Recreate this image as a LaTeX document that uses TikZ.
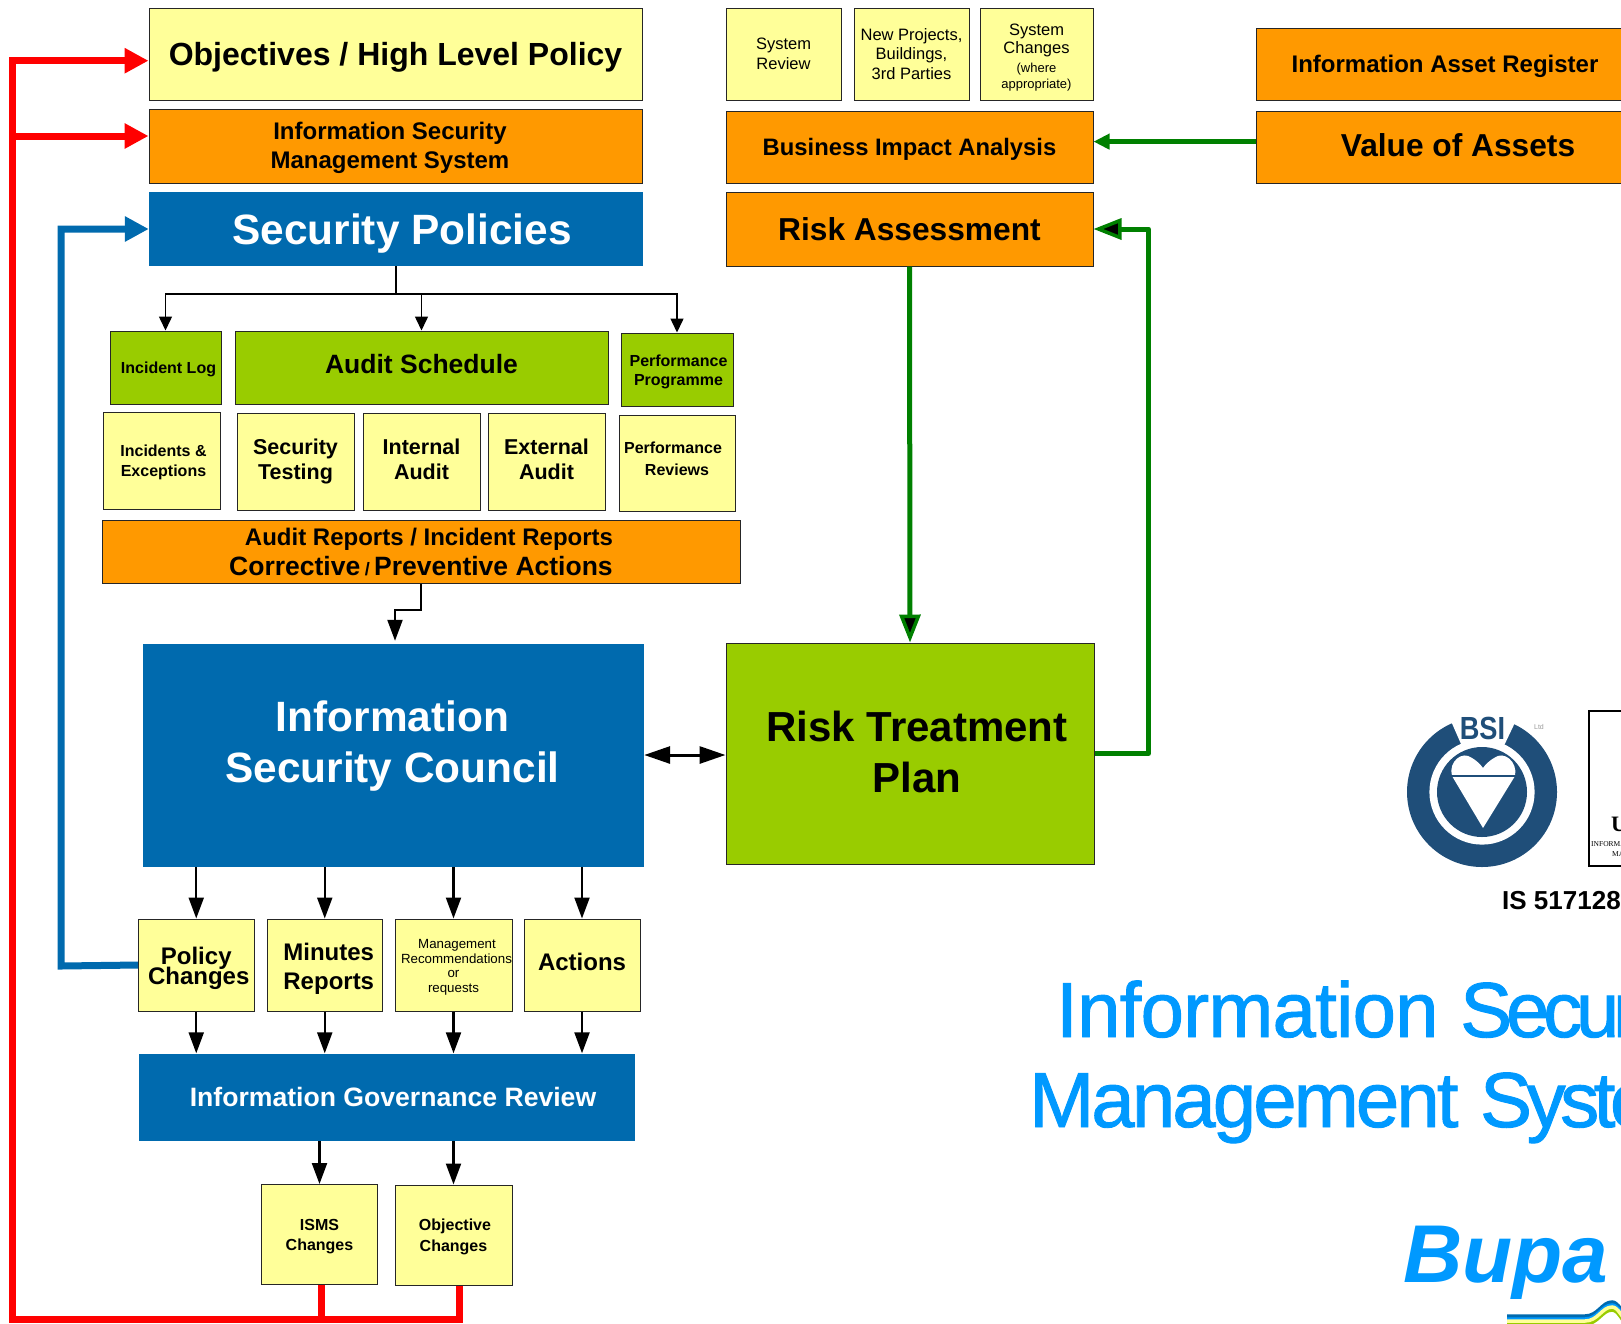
\documentclass[tikz,border=0pt]{standalone}
\usepackage{fontspec}
\setmainfont{Liberation Sans}
\newfontfamily\serifmark{Liberation Serif}
\newfontfamily\titlefont[FakeBold=1.2]{Liberation Sans}
\usetikzlibrary{calc}
\usetikzlibrary{arrows.meta}
\definecolor{paleyellow}{HTML}{FFFF99}
\definecolor{boxorange}{HTML}{FF9900}
\definecolor{boxgreen}{HTML}{99CC00}
\definecolor{boxblue}{HTML}{006AAE}
\definecolor{titleblue}{HTML}{0099FF}
\definecolor{linegreen}{HTML}{008000}
\definecolor{bsiblue}{HTML}{1F4E79}
\newcommand{\fsize}[2]{\fontsize{#1}{#2}\selectfont}
\newcommand{\tallline}[1]{\rule{0pt}{#1pt}}
\newcommand{\deepline}[1]{\rule[-#1pt]{0pt}{#1pt}}
\tikzset{boldtext/.style 2 args={font=\bfseries\fsize{#1}{#2}}}
\tikzset{plaintext/.style 2 args={font=\normalfont\fsize{#1}{#2}}}
\tikzset{capline/.style={text height=0.716*#1pt, text depth=0pt}}
\tikzstyle{basebox} = [draw=black!85, line width=1pt, inner sep=0pt, align=center]
\tikzstyle{yellowbox} = [basebox, fill=paleyellow]
\tikzstyle{orangebox} = [basebox, fill=boxorange]
\tikzstyle{greenbox} = [basebox, fill=boxgreen]
\tikzstyle{bluebox} = [inner sep=0pt, align=center, fill=boxblue, text=white]
\tikzstyle{blackthin} = [draw=black, line width=1.5pt, -{Triangle[length=14pt,width=13pt]}]
\tikzstyle{blackthick} = [draw=black, line width=2.2pt, -{Triangle[length=21pt,width=15pt]}]
\tikzstyle{redline} = [draw=red, line width=7pt]
\tikzstyle{redarrow} = [redline, -{Triangle[length=24pt,width=24pt]}]
\tikzstyle{blueline} = [draw=boxblue, line width=7pt, -{Triangle[length=24pt,width=24pt]}]
\tikzstyle{greenline} = [draw=linegreen, line width=5pt]
\tikzstyle{greenhead} = [greenline, line join=round, -{Triangle[length=28pt,width=21pt,fill=black,line width=3.5pt]}]

\begin{document}
\begin{tikzpicture}[x=1pt, y=-1pt]
    \useasboundingbox (0,0) rectangle (1621,1323);
    \clip (0,0) rectangle (1621,1323);

    % policy column
    \node[yellowbox, boldtext={32}{38}, capline=32, minimum width=493pt, minimum height=92pt] (objectives) at (395.5,54) {Objectives / High Level Policy};
    \node[orangebox, boldtext={24}{29}, minimum width=493pt, minimum height=74pt] (isms_box) at (395.5,146) {\tallline{22}\hspace*{-11pt}Information Security\\\hspace*{-11pt}Management System};
    \node[bluebox, boldtext={42.4}{50}, capline=42.4, minimum width=494pt, minimum height=74pt] (security_policies) at (396,229) {\hspace*{12pt}Security Policies};

    % top right
    \node[yellowbox, plaintext={16.5}{20}, minimum width=115pt, minimum height=92pt] (system_review) at (783.5,54) {System\\Review};
    \node[yellowbox, plaintext={16.5}{19.5}, minimum width=115pt, minimum height=92pt] (new_projects) at (911.5,54) {New Projects,\\Buildings,\\3rd Parties};
    \node[yellowbox, plaintext={16.5}{18.6}, minimum width=113pt, minimum height=92pt] (system_changes) at (1036.5,54) {\tallline{18}System\\Changes\\\fsize{13}{15}(where\\[-3pt]\fsize{13}{15}appropriate)};
    \node[orangebox, boldtext={23.8}{29}, capline=23.8, minimum width=367pt, minimum height=72pt] (impact_analysis) at (909.5,147) {Business Impact Analysis};
    \node[orangebox, boldtext={31.7}{38}, capline=31.7, minimum width=367pt, minimum height=74pt] (risk_assessment) at (909.5,229) {Risk Assessment};
    \node[orangebox, boldtext={24}{30}, capline=24, minimum width=378pt, minimum height=72pt] (asset_register) at (1445,64) {Information Asset Register};
    \node[orangebox, boldtext={31.7}{38}, capline=31.7, text depth=4pt, minimum width=404pt, minimum height=72pt] (asset_value) at (1458,147) {Value of Assets};

    % audit rows
    \node[greenbox, boldtext={16}{19}, capline=16, minimum width=111pt, minimum height=73pt] (incident_log) at (165.5,367.5) {\hspace*{6pt}Incident Log};
    \node[greenbox, boldtext={26.5}{32}, capline=26.5, text depth=6pt, minimum width=373pt, minimum height=73pt] (audit_schedule) at (421.5,367.5) {Audit Schedule};
    \node[greenbox, boldtext={16}{19.5}, minimum width=112pt, minimum height=73pt] (perf_programme) at (677,369.5) {\tallline{16}\hspace*{3pt}Performance\\\hspace*{3pt}Programme};
    \node[yellowbox, boldtext={16}{19.5}, minimum width=117pt, minimum height=97pt] (incidents_box) at (161.5,460.5) {\tallline{15}\hspace*{4pt}Incidents \&\\\hspace*{4pt}Exceptions};
    \node[yellowbox, boldtext={21.5}{25}, minimum width=117pt, minimum height=97pt] (security_testing) at (295.5,461.5) {Security\\Testing};
    \node[yellowbox, boldtext={21.5}{25}, minimum width=117pt, minimum height=97pt] (internal_audit) at (421.5,461.5) {Internal\\Audit\deepline{4}};
    \node[yellowbox, boldtext={21.5}{25}, minimum width=117pt, minimum height=97pt] (external_audit) at (546.5,461.5) {External\\Audit\deepline{5}};
    \node[yellowbox, boldtext={16}{22}, minimum width=116pt, minimum height=96pt] (perf_reviews) at (677,463) {\hspace*{-8pt}Performance\\Reviews\deepline{8}};
    \node[orangebox, boldtext={24}{30}, minimum width=638pt, minimum height=63pt] (audit_reports) at (421,551.5) {\tallline{19}\hspace*{16pt}Audit Reports / Incident Reports\\\fsize{26.5}{30}Corrective\,{\fsize{18}{30}/}\,Preventive Actions};

    % council and treatment plan
    \node[bluebox, minimum width=501pt, minimum height=223pt] (council) at (393.5,755.5) {};
    \node[text=white, boldtext={42.4}{51}, align=center, inner sep=0pt] (council_text) at ($(council)+(-1,-9)$) {Information\\Security Council};
    \node[greenbox, boldtext={42}{50.5}, minimum width=368pt, minimum height=221pt] (treatment_plan) at (910,753.5) {\hspace*{14pt}Risk Treatment\\\hspace*{14pt}Plan\deepline{3}};

    % council outputs
    \node[yellowbox, boldtext={24}{21}, minimum width=115.5pt, minimum height=92pt] (policy_changes) at (196.25,965) {\tallline{24}Policy\\[-3pt]\hspace*{5pt}Changes};
    \node[yellowbox, boldtext={24}{29}, minimum width=115.5pt, minimum height=92pt] (minutes_reports) at (324.75,965) {\tallline{24}\hspace*{8pt}Minutes\\\hspace*{8pt}Reports};
    \node[yellowbox, plaintext={13.3}{14.6}, minimum width=117pt, minimum height=92pt] (recommendations) at (453.5,965) {\tallline{14}\hspace*{7pt}Management\\\hspace*{6pt}Recommendations\\or\\requests};
    \node[yellowbox, boldtext={24}{29}, capline=24, text depth=6pt, minimum width=116pt, minimum height=92pt] (actions) at (582,965) {Actions};
    \node[bluebox, boldtext={26.6}{32}, capline=26.6, minimum width=496pt, minimum height=87.5pt] (governance) at (387,1097.25) {\hspace*{12pt}Information Governance Review};
    \node[yellowbox, boldtext={16}{20.5}, minimum width=116pt, minimum height=100pt] (isms_changes) at (319.5,1234.5) {\tallline{15}ISMS\\Changes};
    \node[yellowbox, boldtext={16}{20.5}, minimum width=117pt, minimum height=100pt] (objective_changes) at (453.5,1235) {\tallline{15}\hspace*{3pt}Objective\\Changes};

    % red feedback
    \coordinate (red_corner) at (12,1319.5);
    \coordinate (isms_drop) at ($(isms_changes.south)+(2,0)$);
    \draw[redline] (isms_drop) -- (isms_drop |- red_corner);
    \draw[redline] ($(objective_changes.south)+(5.5,0)$) |- (red_corner) -- (12,57);
    \draw[redarrow] (12,60.7) -- ($(objectives.west)+(0,6.7)$);
    \draw[redarrow] (12,136) -- ($(isms_box.west)+(0,-10)$);

    % blue feedback
    \coordinate (blue_corner) at (61,966);
    \draw[blueline] (policy_changes.west) -- (blue_corner) |- (security_policies.west);

    % black connectors
    \coordinate (policies_split) at (396,294);
    \draw[draw=black, line width=1.5pt] (security_policies.south) -- (policies_split);
    \draw[blackthin] (policies_split) -| (incident_log.north);
    \draw[blackthin] (policies_split) -| (audit_schedule.north);
    \draw[blackthin] (policies_split) -| (perf_programme.north);
    \coordinate (reports_step) at (395,610);
    \draw[blackthick] (audit_reports.south) |- (reports_step) -- ($(council.north)+(1.5,-3)$);
    \foreach \outbox in {policy_changes, minutes_reports, recommendations, actions} {
        \draw[blackthick] (\outbox.north |- council.south) -- (\outbox.north);
        \draw[blackthick] (\outbox.south) -- (\outbox.south |- governance.north);
    }
    \draw[blackthick] (isms_changes.north |- governance.south) -- (isms_changes.north);
    \draw[blackthick] (objective_changes.north |- governance.south) -- (objective_changes.north);
    \draw[draw=black, line width=3pt, {Triangle[length=26pt,width=17pt]}-{Triangle[length=26pt,width=17pt]}] (council.east |- treatment_plan.west) ++(0,1.5) -- ($(treatment_plan.west)+(0,1.5)$);

    % green connectors
    \draw[greenhead] (risk_assessment.south) -- (treatment_plan.north);
    \coordinate (return_corner) at (1148.5,753.5);
    \draw[greenhead] (treatment_plan.east) -- (return_corner) |- (risk_assessment.east);
    \draw[greenline, -{Triangle[length=16pt,width=15pt]}] (asset_value.west |- 0,141.6) -- (impact_analysis.east |- 0,141.6);

    % certification marks
    \fill[bsiblue] (1482,792) circle (75);
    \fill[white] (1482,792) circle (52.6);
    \fill[white] (1482,792) -- (1447,712) -- (1520,712) -- cycle;
    \fill[bsiblue] (1482,792) circle (45);
    \fill[white] (1483,828) -- (1452,776) .. controls (1448,762) and (1462,750) .. (1472,758) .. controls (1476,760) and (1481,765) .. (1483,768) .. controls (1485,765) and (1490,760) .. (1494,758) .. controls (1504,750) and (1518,762) .. (1515,776) -- cycle;
    \draw[bsiblue, line width=2pt] (1450,776) -- (1516,776);
    \node[text=bsiblue, boldtext={32}{36}, inner sep=0pt] (bsi_label) at (1482.5,728) {\scalebox{.85}[1]{BSI}};
    \node[text=black!40, plaintext={7}{8}, inner sep=0pt] (bsi_ltd) at (1539,727) {Ltd};
    \draw[draw=black, line width=1.5pt] (1700,711) -- (1589,711) -- (1589,866) -- (1700,866);
    \node[anchor=west, inner sep=0pt, font=\serifmark\bfseries\fsize{22}{26}] (ukas_label) at (1611,824) {UKAS};
    \node[anchor=west, inner sep=0pt, font=\serifmark\fsize{7.5}{9}] (ukas_line_a) at (1591,844) {INFORMATION SECURITY};
    \node[anchor=west, inner sep=0pt, font=\serifmark\fsize{7.5}{9}] (ukas_line_b) at (1612,854) {MANAGEMENT};
    \node[anchor=base west, inner sep=0pt, boldtext={26}{30}] (cert_number) at (1502,909) {IS 517128};

    % title
    \node[anchor=base west, inner sep=0pt, text=titleblue, font=\titlefont\fsize{78}{90}] (title_a) at (1056,1037) {{\addfontfeature{LetterSpace=-1}Information} {\addfontfeature{LetterSpace=-8}Security}};
    \node[anchor=base west, inner sep=0pt, text=titleblue, font=\titlefont\fsize{78}{90}] (title_b) at (1029,1127) {{\addfontfeature{LetterSpace=-3.7}Management} {\addfontfeature{LetterSpace=-7}System}};
    \node[anchor=base west, inner sep=0pt, text=titleblue, font=\bfseries\itshape\fsize{82}{90}] (bupa_label) at (1403,1282) {Bupa};

    % wave
    \foreach \wavecolor/\waveoff in {boxblue/0, titleblue/3, boxgreen/8, paleyellow/5} {
        \draw[\wavecolor, line width=3.5pt] (1507,1316+\waveoff) -- (1585,1316+\waveoff) .. controls (1598,1316+\waveoff) and (1602,1302+\waveoff) .. (1612,1302+\waveoff) .. controls (1618,1302+\waveoff) and (1622,1312+\waveoff) .. (1630,1322+\waveoff);
    }
\end{tikzpicture}
\end{document}
